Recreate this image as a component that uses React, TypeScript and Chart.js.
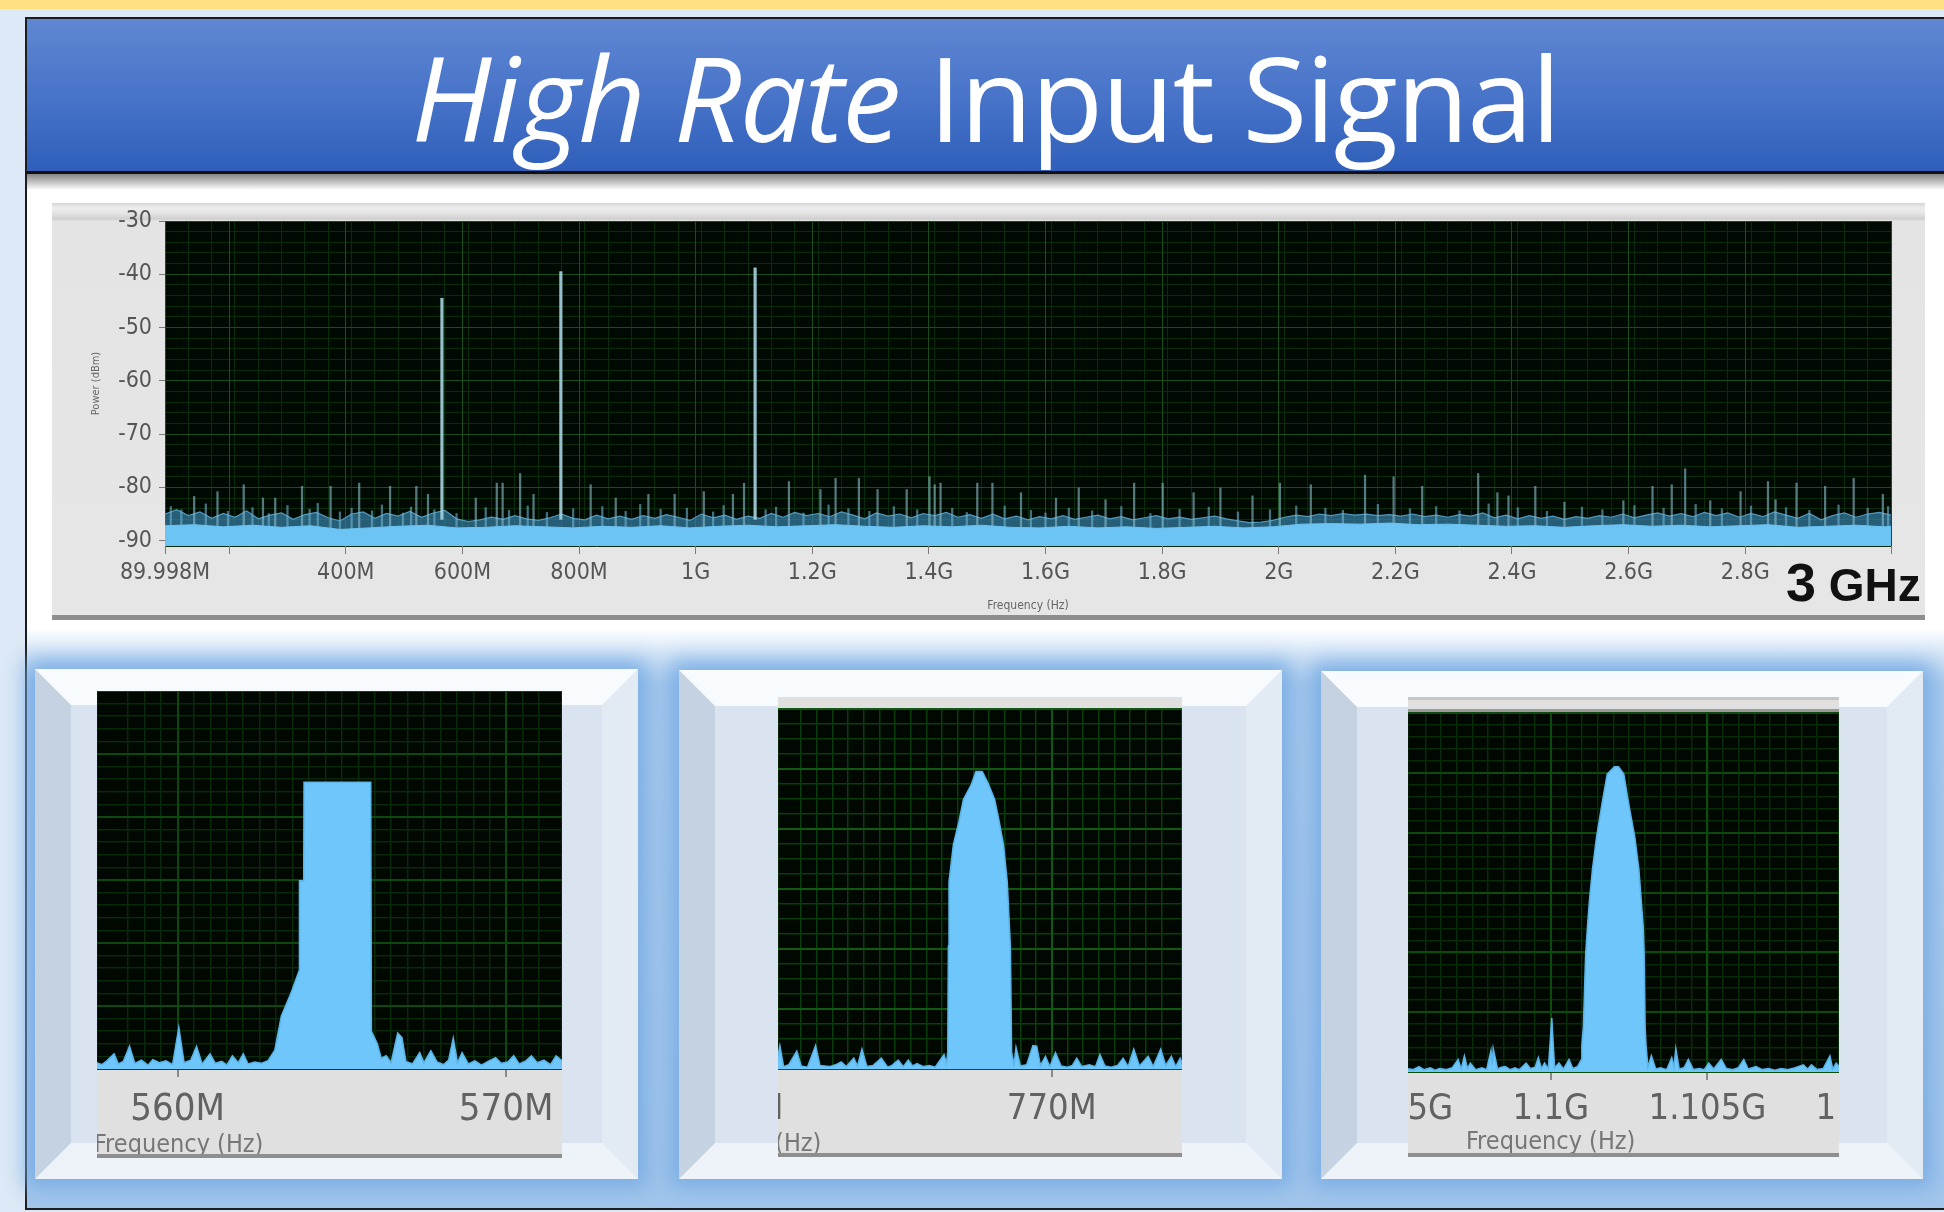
import React, { useEffect, useRef } from "react";
import { Chart, registerables } from "chart.js";

Chart.register(...registerables);

const AXIS_FONT = "'DejaVu Sans Condensed', 'DejaVu Sans', sans-serif";

/* ---------------- main spectrum (frequency in MHz, power in dBm) ---------------- */
const mainFreqMin = 89.998;
const mainFreqMax = 3050;
const mainPowerMin = -91;
const mainPowerMax = -30;
const mainXTickValues = [89.998, 200, 400, 600, 800, 1000, 1200, 1400, 1600, 1800, 2000, 2200, 2400, 2600, 2800, 3050];
const mainXTickLabels = ["89.998M", "", "400M", "600M", "800M", "1G", "1.2G", "1.4G", "1.6G", "1.8G", "2G", "2.2G", "2.4G", "2.6G", "2.8G", ""];
const mainYTickValues = [-90, -80, -70, -60, -50, -40, -30];
const mainYTickLabels = ["-90", "-80", "-70", "-60", "-50", "-40", "-30"];

const noiseFreqs = [90,110,130,150,170,190,210,230,250,270,290,310,330,350,370,390,410,430,450,470,490,510,530,550,570,590,610,630,650,670,690,710,730,750,770,790,810,830,850,870,890,910,930,950,970,990,1010,1030,1050,1070,1090,1110,1130,1150,1170,1190,1210,1230,1250,1270,1290,1310,1330,1350,1370,1390,1410,1430,1450,1470,1490,1510,1530,1550,1570,1590,1610,1630,1650,1670,1690,1710,1730,1750,1770,1790,1810,1830,1850,1870,1890,1910,1930,1950,1970,1990,2010,2030,2050,2070,2090,2110,2130,2150,2170,2190,2210,2230,2250,2270,2290,2310,2330,2350,2370,2390,2410,2430,2450,2470,2490,2510,2530,2550,2570,2590,2610,2630,2650,2670,2690,2710,2730,2750,2770,2790,2810,2830,2850,2870,2890,2910,2930,2950,2970,2990,3010,3030,3050];
const noiseLevels = [
  -85.0,-84.2,-85.3,-84.6,-85.8,-84.9,-85.6,-84.4,-85.9,-85.2,
  -84.8,-86.0,-85.1,-84.7,-85.7,-86.3,-85.0,-84.6,-85.8,-84.9,
  -85.4,-84.5,-85.6,-84.8,-84.3,-85.9,-86.4,-86.1,-85.6,-86.0,
  -85.3,-85.9,-86.2,-85.7,-85.0,-85.8,-86.1,-85.2,-85.9,-85.4,
  -86.0,-85.3,-85.8,-85.1,-85.6,-86.2,-85.0,-85.7,-85.2,-86.0,
  -85.4,-85.8,-84.9,-85.6,-84.7,-85.3,-84.9,-85.5,-84.6,-85.2,
  -85.9,-84.8,-85.4,-85.0,-85.7,-84.9,-85.3,-84.7,-85.6,-85.1,
  -85.8,-85.0,-85.9,-85.4,-86.1,-85.5,-85.9,-85.3,-86.0,-85.6,
  -85.2,-85.9,-85.5,-86.1,-85.7,-85.3,-85.9,-85.6,-86.0,-85.7,
  -85.4,-85.9,-86.3,-86.6,-86.5,-86.2,-85.6,-85.2,-85.5,-85.0,
  -85.3,-84.9,-85.2,-85.0,-85.3,-85.1,-85.4,-85.0,-85.5,-85.2,
  -85.6,-85.1,-85.4,-84.8,-85.7,-85.2,-85.9,-85.3,-85.8,-85.4,
  -86.0,-85.5,-85.8,-85.3,-85.6,-85.0,-85.7,-85.2,-84.8,-85.4,
  -84.9,-85.5,-84.7,-85.3,-84.8,-85.6,-84.9,-85.5,-84.6,-85.2,
  -85.8,-84.9,-86.1,-85.3,-84.8,-85.6,-85.0,-84.7,-85.2
];
const floorFreqs = [90,140,190,240,290,340,390,440,490,540,590,640,690,740,790,840,890,940,990,1040,1090,1140,1190,1240,1290,1340,1390,1440,1490,1540,1590,1640,1690,1740,1790,1840,1890,1940,1990,2040,2090,2140,2190,2240,2290,2340,2390,2440,2490,2540,2590,2640,2690,2740,2790,2840,2890,2940,2990,3040,3050];
const floorLevels = [
  -87.2,-87.0,-87.4,-87.1,-87.5,-87.2,-87.9,-87.6,-87.3,-87.1,
  -87.6,-87.5,-87.2,-87.4,-87.6,-87.3,-87.5,-87.2,-87.6,-87.3,
  -87.1,-87.4,-87.2,-87.0,-87.3,-87.5,-87.2,-87.4,-87.1,-87.5,
  -87.6,-87.3,-87.6,-87.4,-87.7,-87.5,-87.3,-87.6,-87.4,-86.9,
  -86.8,-86.9,-86.7,-87.0,-86.9,-87.1,-87.3,-87.2,-87.5,-87.2,
  -87.0,-87.3,-87.1,-87.4,-87.2,-87.0,-87.5,-87.3,-87.1,-87.4,
  -87.3
];
const spurBase = -88;
const spurFreqs = [140,180,225,258,279,325,374,423,476,521,541,623,659,669,699,722,820,863,919,964,1014,1064,1083,1160,1214,1240,1280,1312,1362,1401,1410,1420,1483,1509,1558,1618,1657,1703,1752,1801,1854,1900,1955,2002,2055,2148,2197,2246,2342,2375,2394,2440,2490,2591,2641,2674,2697,2740,2792,2839,2852,2888,2937,2986,3036];
const spurLevels = [-81.7,-80.8,-79.5,-82,-82,-79.8,-79.8,-79.2,-79.8,-79.8,-81.3,-82,-79.2,-79.2,-77.4,-81.3,-79.5,-82,-81.3,-81.3,-80.8,-81.3,-79.2,-78.9,-80.4,-78.3,-78.3,-80.4,-80.4,-78,-79.5,-79.2,-79.2,-79.2,-81,-82,-80.1,-82.3,-79.2,-79.2,-81,-80.1,-81.6,-79.2,-79.5,-77.7,-78,-79.8,-77.4,-81,-81.6,-79.8,-82.8,-82.5,-79.8,-79.5,-76.5,-82.5,-80.8,-78.9,-82.3,-79.2,-79.8,-78.3,-81.3];
const smallSpurFreqs = [100,118,160,198,240,268,300,338,352,390,410,445,462,498,512,552,590,640,680,712,745,790,840,880,905,940,985,1030,1048,1120,1138,1185,1228,1262,1298,1340,1380,1440,1465,1530,1575,1600,1640,1680,1730,1780,1830,1880,1930,1985,2030,2080,2110,2170,2225,2270,2310,2360,2410,2460,2520,2555,2610,2660,2715,2760,2810,2870,2910,2960,3010,3045];
const smallSpurLevels = [
  -83.6,-84.2,-83.1,-84.5,-83.8,-84.9,-83.4,-84.1,-83.0,-84.6,
  -83.9,-84.4,-83.3,-84.8,-83.7,-84.2,-84.9,-83.8,-84.3,-83.5,
  -84.7,-84.0,-83.6,-84.5,-83.2,-84.1,-83.9,-84.6,-83.4,-84.2,
  -83.7,-84.8,-83.3,-84.0,-84.5,-83.6,-84.2,-83.9,-84.7,-83.5,
  -84.3,-84.8,-83.9,-84.4,-83.6,-84.9,-84.1,-83.7,-84.6,-84.2,
  -83.5,-83.9,-84.3,-83.2,-84.0,-83.6,-84.4,-83.1,-83.8,-84.5,
  -83.7,-84.2,-83.4,-83.9,-83.2,-84.0,-83.5,-83.8,-84.3,-83.3,
  -83.9,-83.6
];
const toneBase = -86;
const toneFreqs = [564.9, 768.85, 1102.0];
const toneLevels = [-44.5, -39.5, -38.8];

/* ---------------- zoomed panels ---------------- */
const panel1Freqs = [557.5,557.7,557.85,558.07,558.2,558.35,558.54,558.7,558.9,559.1,559.25,559.45,559.65,559.85,560.04,560.2,560.4,560.58,560.75,560.99,561.15,561.35,561.5,561.67,561.85,562.0,562.15,562.35,562.55,562.75,562.96,563.16,563.45,563.7,563.71,563.84,563.85,565.88,565.9,566.08,566.2,566.35,566.5,566.7,566.83,566.95,567.15,567.37,567.5,567.71,567.9,568.1,568.25,568.39,568.52,568.66,568.85,569.05,569.25,569.45,569.68,569.85,570.05,570.23,570.4,570.6,570.77,570.95,571.15,571.35,571.52,571.75];
const panel1Levels = [-88.9,-89.3,-88.7,-87.6,-89.2,-88.8,-86.4,-89.1,-88.6,-89.4,-88.5,-89.0,-88.7,-89.3,-83.4,-89.0,-88.6,-86.4,-89.2,-87.6,-89.1,-88.8,-89.4,-87.9,-89.0,-87.6,-89.2,-88.9,-89.1,-88.7,-87.0,-81.6,-78.0,-74.4,-60.1,-60.1,-44.5,-44.5,-84.0,-86.0,-88.3,-87.9,-89.0,-84.3,-85.0,-88.8,-89.2,-87.4,-89.0,-87.1,-88.9,-89.3,-88.6,-85.1,-89.0,-87.4,-89.2,-88.7,-89.4,-88.8,-88.2,-89.1,-88.9,-87.9,-89.2,-88.7,-87.9,-89.0,-88.6,-89.3,-87.9,-88.9];
const panel1TickValues = [560, 570];
const panel1TickLabels = ["560M", "570M"];

const panel2Freqs = [765.6,765.66,765.72,765.8,765.93,766.0,766.1,766.23,766.3,766.45,766.55,766.64,766.72,766.84,766.9,766.97,767.05,767.15,767.28,767.38,767.45,767.55,767.63,767.71,767.78,767.85,767.95,768.05,768.14,768.22,768.28,768.32,768.34,768.35,768.36,768.43,768.52,768.59,768.72,768.79,768.89,768.99,769.09,769.16,769.23,769.29,769.34,769.36,769.4,769.43,769.5,769.6,769.7,769.76,769.82,769.9,769.97,770.06,770.15,770.25,770.33,770.4,770.48,770.6,770.7,770.77,770.85,770.95,771.05,771.14,771.22,771.31,771.4,771.54,771.62,771.74,771.82,771.91,771.98,772.05,772.1];
const panel2Levels = [-89.5,-86.1,-89.6,-89.3,-87.0,-89.5,-89.7,-86.1,-89.4,-89.6,-89.3,-88.8,-89.6,-88.2,-89.5,-86.7,-89.6,-89.4,-88.2,-89.7,-89.4,-88.5,-89.6,-88.5,-89.5,-89.1,-89.6,-89.4,-89.7,-88.5,-87.6,-89.0,-87.3,-69.5,-58.8,-52.6,-48.7,-45.1,-42.5,-40.4,-40.4,-42.5,-45.1,-48.7,-52.6,-58.8,-69.5,-87.3,-89.2,-86.4,-89.5,-89.3,-86.1,-86.2,-89.4,-87.9,-89.6,-87.3,-89.5,-89.7,-89.4,-88.2,-89.6,-89.3,-89.6,-87.6,-89.5,-89.7,-89.4,-88.2,-89.6,-86.7,-89.5,-87.9,-89.6,-86.7,-89.4,-87.9,-89.6,-88.2,-89.5];
const panel2TickValues = [765, 770, 775];
const panel2TickLabels = ["765M", "770M", "775M"];

const panel3Freqs = [1095.4,1095.6,1095.79,1095.95,1096.15,1096.3,1096.45,1096.65,1096.85,1097.04,1097.14,1097.24,1097.34,1097.43,1097.6,1097.8,1097.95,1098.09,1098.13,1098.16,1098.3,1098.42,1098.55,1098.7,1098.85,1099.0,1099.21,1099.35,1099.5,1099.6,1099.7,1099.8,1099.92,1100.03,1100.12,1100.26,1100.4,1100.58,1100.7,1100.85,1100.97,1100.99,1101.04,1101.11,1101.17,1101.24,1101.33,1101.46,1101.63,1101.8,1102.03,1102.16,1102.33,1102.49,1102.68,1102.81,1102.88,1102.95,1102.98,1103.01,1103.04,1103.1,1103.21,1103.35,1103.5,1103.7,1103.86,1103.93,1103.99,1104.1,1104.25,1104.39,1104.55,1104.75,1104.9,1105.04,1105.2,1105.44,1105.6,1105.8,1105.98,1106.16,1106.3,1106.55,1106.75,1106.95,1107.15,1107.35,1107.55,1107.8,1108.06,1108.2,1108.32,1108.5,1108.7,1108.91,1109.0,1109.11,1109.25];
const panel3Levels = [-89.4,-89.6,-89.1,-89.6,-89.3,-89.7,-89.4,-89.6,-89.3,-87.9,-89.5,-87.3,-89.4,-88.5,-89.6,-89.3,-89.6,-86.4,-88.8,-86.1,-89.5,-89.2,-89.1,-89.6,-89.3,-89.6,-88.5,-89.4,-89.2,-87.6,-89.4,-88.5,-89.5,-81.0,-89.3,-88.5,-89.5,-87.9,-89.4,-89.1,-88.0,-85.5,-82.5,-70.5,-65.7,-60.9,-56.1,-50.7,-45.3,-40.2,-39.0,-39.0,-40.2,-45.3,-50.7,-56.1,-60.9,-65.7,-70.5,-82.5,-85.5,-89.2,-87.3,-89.5,-89.3,-89.6,-87.6,-89.2,-86.1,-89.5,-89.3,-87.9,-89.6,-89.4,-89.6,-88.5,-89.5,-87.9,-89.4,-89.6,-89.3,-87.9,-89.5,-89.1,-89.6,-89.4,-89.7,-89.4,-89.6,-89.3,-88.8,-89.5,-88.8,-89.6,-89.4,-87.3,-89.5,-88.5,-89.4];
const panel3TickValues = [1095, 1100, 1105, 1110];
const panel3TickLabels = ["1.095G", "1.1G", "1.105G", "1.11G"];

const plotBackground = {
  id: "plotBackground",
  beforeDraw(chart: any, _args: any, opts: any) {
    const { ctx, chartArea } = chart;
    if (!chartArea) return;
    ctx.save();
    ctx.fillStyle = opts.color || "#000";
    ctx.fillRect(chartArea.left, chartArea.top, chartArea.right - chartArea.left, chartArea.bottom - chartArea.top);
    ctx.restore();
  },
};

function toPoints(xs: number[], ys: number[]) {
  return xs.map((x, i) => ({ x, y: ys[i] }));
}

function MainSpectrum() {
  const ref = useRef<HTMLCanvasElement>(null);
  useEffect(() => {
    const chart = new Chart(ref.current as HTMLCanvasElement, {
      type: "line",
      data: {
        datasets: [
          {
            type: "bar",
            data: toneFreqs.map((f, i) => ({ x: f, y: [toneBase, toneLevels[i]] })),
            backgroundColor: "rgba(165,212,226,0.9)",
            barThickness: 2.5,
            grouped: false,
            order: 0,
            xAxisID: "x",
            yAxisID: "y",
          },
          {
            type: "line",
            data: toPoints(floorFreqs, floorLevels),
            borderColor: "#6cc4f4",
            backgroundColor: "#6cc4f4",
            borderWidth: 1,
            fill: "start",
            pointRadius: 0,
            order: 1,
            xAxisID: "x",
            yAxisID: "y",
          },
          {
            type: "bar",
            data: spurFreqs.map((f, i) => ({ x: f, y: [spurBase, spurLevels[i]] })),
            backgroundColor: "rgba(140,192,208,0.6)",
            barThickness: 1.6,
            grouped: false,
            order: 2,
            xAxisID: "x",
            yAxisID: "y",
          },
          {
            type: "bar",
            data: smallSpurFreqs.map((f, i) => ({ x: f, y: [spurBase, smallSpurLevels[i]] })),
            backgroundColor: "rgba(110,180,212,0.6)",
            barThickness: 1.6,
            grouped: false,
            order: 3,
            xAxisID: "x",
            yAxisID: "y",
          },
          {
            type: "line",
            data: toPoints(noiseFreqs, noiseLevels),
            borderColor: "rgba(90,165,205,0.9)",
            backgroundColor: "rgba(55,130,170,0.7)",
            borderWidth: 1.2,
            fill: "start",
            pointRadius: 0,
            order: 4,
            xAxisID: "x",
            yAxisID: "y",
          },
        ],
      },
      options: {
        responsive: false,
        animation: false,
        layout: { padding: { left: 0, right: 34, top: 18, bottom: 0 }, autoPadding: false },
        plugins: {
          legend: { display: false },
          tooltip: { enabled: false },
          plotBackground: { color: "#010a02" },
        },
        scales: {
          x: {
            type: "linear",
            position: "bottom",
            min: mainFreqMin,
            max: mainFreqMax,
            bounds: "data",
            offset: false,
            afterBuildTicks: (s: any) => {
              s.ticks = mainXTickValues.map((v) => ({ value: v }));
            },
            ticks: {
              autoSkip: false,
              maxRotation: 0,
              minRotation: 0,
              padding: 5,
              color: "#555",
              font: { family: AXIS_FONT, size: 23 },
              callback: (_v: any, i: number) => mainXTickLabels[i],
            },
            grid: { offset: false, color: "#1a4d1b", lineWidth: 1, tickColor: "#7a7a7a", tickLength: 8, z: -1 },
            border: { display: false },
            title: {
              display: true,
              text: "Frequency (Hz)",
              color: "#666",
              font: { family: AXIS_FONT, size: 12 },
              padding: { top: 0, bottom: 2 },
            },
            afterFit: (s: any) => {
              s.height = 69;
              s.paddingLeft = 0;
              s.paddingRight = 0;
            },
          },
          y: {
            type: "linear",
            position: "left",
            min: mainPowerMin,
            max: mainPowerMax,
            beginAtZero: false,
            afterBuildTicks: (s: any) => {
              s.ticks = mainYTickValues.map((v) => ({ value: v }));
            },
            ticks: {
              padding: 7,
              color: "#555",
              font: { family: AXIS_FONT, size: 23 },
              callback: (_v: any, i: number) => mainYTickLabels[i],
            },
            grid: { color: "#1a4d1b", lineWidth: 1, tickColor: "#7a7a7a", tickLength: 6, z: -1 },
            border: { display: false },
            title: {
              display: true,
              text: "Power (dBm)",
              color: "#666",
              font: { family: AXIS_FONT, size: 11 },
              padding: { top: 38, bottom: 0 },
            },
            afterFit: (s: any) => {
              s.width = 113;
              s.paddingTop = 0;
              s.paddingBottom = 0;
            },
          },
          xm: {
            type: "linear",
            position: "bottom",
            min: mainFreqMin,
            max: mainFreqMax,
            ticks: { display: false, stepSize: 40 },
            grid: { color: "#0b2c0c", lineWidth: 1, drawTicks: false, z: -2 },
            border: { display: false },
            afterFit: (s: any) => {
              s.height = 0;
              s.paddingLeft = 0;
              s.paddingRight = 0;
            },
          },
          ym: {
            type: "linear",
            position: "left",
            min: mainPowerMin,
            max: mainPowerMax,
            ticks: { display: false, stepSize: 2 },
            grid: { color: "#0b2c0c", lineWidth: 1, drawTicks: false, z: -2 },
            border: { display: false },
            afterFit: (s: any) => {
              s.width = 0;
              s.paddingTop = 0;
              s.paddingBottom = 0;
            },
          },
        },
      } as any,
      plugins: [plotBackground],
    } as any);
    return () => chart.destroy();
  }, []);
  return (
    <canvas
      ref={ref}
      width={1873}
      height={412}
      style={{ position: "absolute", left: 0, top: 0, width: 1873, height: 412 }}
    />
  );
}

type PanelSpec = {
  freqs: number[];
  levels: number[];
  xMin: number;
  xMax: number;
  tickValues: number[];
  tickLabels: string[];
  minorX: number;
  minorY: number;
  width: number;
  height: number;
  plotTop: number;
  plotBottom: number;
  labelSize: number;
  labelPad: number;
  majorColor: string;
  minorColor: string;
};

function PanelChart({ spec }: { spec: PanelSpec }) {
  const ref = useRef<HTMLCanvasElement>(null);
  useEffect(() => {
    const chart = new Chart(ref.current as HTMLCanvasElement, {
      type: "line",
      data: {
        datasets: [
          {
            data: toPoints(spec.freqs, spec.levels),
            borderColor: "#5ab4e8",
            backgroundColor: "#6ec6fa",
            borderWidth: 1.5,
            fill: "start",
            pointRadius: 0,
            tension: 0,
            clip: 0,
            xAxisID: "x",
            yAxisID: "y",
          },
        ],
      },
      options: {
        responsive: false,
        animation: false,
        layout: { padding: { left: 0, right: 0, top: spec.plotTop, bottom: 0 }, autoPadding: false },
        plugins: {
          legend: { display: false },
          tooltip: { enabled: false },
          plotBackground: { color: "#010801" },
        },
        scales: {
          x: {
            type: "linear",
            position: "bottom",
            min: spec.xMin,
            max: spec.xMax,
            bounds: "data",
            offset: false,
            afterBuildTicks: (s: any) => {
              s.ticks = spec.tickValues.map((v) => ({ value: v }));
            },
            ticks: {
              autoSkip: false,
              maxRotation: 0,
              minRotation: 0,
              padding: spec.labelPad,
              color: "#626262",
              font: { family: AXIS_FONT, size: spec.labelSize },
              callback: (_v: any, i: number) => spec.tickLabels[i],
            },
            grid: { offset: false, color: spec.majorColor, lineWidth: 2, tickColor: "#8a8a8a", tickLength: 8, z: -1 },
            border: { display: false },
            afterFit: (s: any) => {
              s.height = spec.height - spec.plotBottom;
              s.paddingLeft = 0;
              s.paddingRight = 0;
            },
          },
          y: {
            type: "linear",
            position: "left",
            min: -90,
            max: -30,
            beginAtZero: false,
            ticks: { display: false, stepSize: 10 },
            grid: { color: spec.majorColor, lineWidth: 2, drawTicks: false, z: -1 },
            border: { display: false },
            afterFit: (s: any) => {
              s.width = 0;
              s.paddingTop = 0;
              s.paddingBottom = 0;
            },
          },
          xm: {
            type: "linear",
            position: "bottom",
            min: spec.xMin,
            max: spec.xMax,
            ticks: { display: false, stepSize: spec.minorX },
            grid: { color: spec.minorColor, lineWidth: 1.5, drawTicks: false, z: -2 },
            border: { display: false },
            afterFit: (s: any) => {
              s.height = 0;
              s.paddingLeft = 0;
              s.paddingRight = 0;
            },
          },
          ym: {
            type: "linear",
            position: "left",
            min: -90,
            max: -30,
            ticks: { display: false, stepSize: spec.minorY },
            grid: { color: spec.minorColor, lineWidth: 1.5, drawTicks: false, z: -2 },
            border: { display: false },
            afterFit: (s: any) => {
              s.width = 0;
              s.paddingTop = 0;
              s.paddingBottom = 0;
            },
          },
        },
      } as any,
      plugins: [plotBackground],
    } as any);
    return () => chart.destroy();
  }, []);
  return (
    <canvas
      ref={ref}
      width={spec.width}
      height={spec.height}
      style={{ position: "absolute", left: 0, top: 0, width: spec.width, height: spec.height }}
    />
  );
}

const panel1Spec: PanelSpec = {
  freqs: panel1Freqs, levels: panel1Levels, xMin: 557.55, xMax: 571.7,
  tickValues: panel1TickValues, tickLabels: panel1TickLabels, minorX: 0.5, minorY: 2,
  width: 465, height: 467, plotTop: 0, plotBottom: 378, labelSize: 38, labelPad: 10,
  majorColor: "#0d480e", minorColor: "#0a290a",
};
const panel2Spec: PanelSpec = {
  freqs: panel2Freqs, levels: panel2Levels, xMin: 765.63, xMax: 772.08,
  tickValues: panel2TickValues, tickLabels: panel2TickLabels, minorX: 0.25, minorY: 2.5,
  width: 404, height: 460, plotTop: 12, plotBottom: 372, labelSize: 36, labelPad: 11,
  majorColor: "#0f5a10", minorColor: "#0b3c0b",
};
const panel3Spec: PanelSpec = {
  freqs: panel3Freqs, levels: panel3Levels, xMin: 1095.44, xMax: 1109.2,
  tickValues: panel3TickValues, tickLabels: panel3TickLabels, minorX: 0.5, minorY: 2,
  width: 431, height: 460, plotTop: 16, plotBottom: 375, labelSize: 36, labelPad: 8,
  majorColor: "#0d4a0e", minorColor: "#0a2b0a",
};

function Frame({ left, top, width, height }: { left: number; top: number; width: number; height: number }) {
  return (
    <div
      style={{
        position: "absolute",
        left,
        top,
        width,
        height,
        boxSizing: "border-box",
        borderStyle: "solid",
        borderWidth: 36,
        borderTopColor: "#f8fbfe",
        borderRightColor: "#e2eaf4",
        borderBottomColor: "#edf3f9",
        borderLeftColor: "#c5d2e2",
        background: "#dae4f0",
        boxShadow: "0 0 20px 9px rgba(120,172,228,0.95)",
      }}
    />
  );
}

function PanelWindow({
  left, top, spec, titleLeft, titleTop, topStrip,
}: { left: number; top: number; spec: PanelSpec; titleLeft: number; titleTop: number; topStrip: boolean }) {
  return (
    <div
      style={{
        position: "absolute",
        left,
        top,
        width: spec.width,
        height: spec.height,
        overflow: "hidden",
        background: "#e0e0e0",
      }}
    >
      {topStrip ? (
        <>
          <div style={{ position: "absolute", left: 0, top: 0, width: spec.width, height: 3, background: "#c6c6c6" }} />
          <div style={{ position: "absolute", left: 0, top: 12, width: spec.width, height: 4, background: "#9a9a9a" }} />
        </>
      ) : null}
      <PanelChart spec={spec} />
      <div
        style={{
          position: "absolute",
          left: titleLeft,
          top: titleTop,
          fontFamily: AXIS_FONT,
          fontSize: 25,
          lineHeight: "26px",
          color: "#767676",
          whiteSpace: "nowrap",
        }}
      >
        Frequency (Hz)
      </div>
      <div style={{ position: "absolute", left: 0, bottom: 0, width: spec.width, height: 4, background: "#8e8e8e" }} />
    </div>
  );
}

export default function App() {
  return (
    <div
      style={{
        position: "absolute",
        left: 0,
        top: 0,
        width: 1944,
        height: 1212,
        overflow: "hidden",
        background: "#dde9f6",
      }}
    >
      <div style={{ position: "absolute", left: 0, top: 0, width: 1944, height: 9, background: "#ffe181" }} />
      <div
        style={{
          position: "absolute",
          left: 25,
          top: 172,
          width: 1919,
          height: 1038,
          background: "#ffffff",
          borderLeft: "2px solid #1c1c1c",
          borderBottom: "2px solid #1c1c1c",
          boxSizing: "border-box",
        }}
      />
      <div
        style={{
          position: "absolute",
          left: 27,
          top: 628,
          width: 1917,
          height: 580,
          background: "linear-gradient(#ffffff 0px, #d6e6f7 26px, #abcbed 56px, #a3c6eb 100%)",
        }}
      />
      {/* title banner */}
      <div
        style={{
          position: "absolute",
          left: 25,
          top: 17,
          width: 1919,
          height: 157,
          boxSizing: "border-box",
          borderTop: "2px solid #1e1e1e",
          borderLeft: "2px solid #1e1e1e",
          borderBottom: "3px solid #111",
          background: "linear-gradient(#5f87d2, #4672c8 55%, #2f5fba)",
        }}
      >
        <div
          style={{
            position: "absolute",
            left: 0,
            right: 0,
            top: 19,
            textAlign: "center",
            color: "#ffffff",
            fontFamily: "'Open Sans', 'Noto Sans', sans-serif",
            fontSize: 118,
            lineHeight: "118px",
            letterSpacing: -1.5,
            whiteSpace: "nowrap",
          }}
        >
          <span style={{ fontStyle: "italic" }}>High Rate</span> Input Signal
        </div>
      </div>
      <div
        style={{
          position: "absolute",
          left: 27,
          top: 174,
          width: 1917,
          height: 16,
          background: "linear-gradient(rgba(80,80,80,0.7), rgba(255,255,255,0))",
        }}
      />
      {/* main spectrum panel */}
      <div
        style={{
          position: "absolute",
          left: 52,
          top: 203,
          width: 1873,
          height: 417,
          boxSizing: "border-box",
          borderBottom: "5px solid #8e8e8e",
          background:
            "linear-gradient(#d6d6d6 0px, #ededed 5px, #e6e6e6 10px, #cfcfcf 16px, #e4e4e4 18px, #e6e6e6 100%)",
        }}
      >
        <MainSpectrum />
        <div
          style={{
            position: "absolute",
            left: 1734,
            top: 352,
            fontFamily: "'Liberation Sans', Arial, sans-serif",
            fontWeight: "bold",
            color: "#111",
            fontSize: 54,
            lineHeight: "54px",
            whiteSpace: "nowrap",
          }}
        >
          <span style={{ fontSize: 54 }}>3</span>
          <span style={{ fontSize: 46 }}> GHz</span>
        </div>
      </div>
      {/* zoom frames */}
      <Frame left={35} top={669} width={603} height={510} />
      <Frame left={679} top={670} width={603} height={509} />
      <Frame left={1321} top={671} width={602} height={508} />
      <PanelWindow left={97} top={691} spec={panel1Spec} titleLeft={-3} titleTop={440} topStrip={false} />
      <PanelWindow left={778} top={697} spec={panel2Spec} titleLeft={-126} titleTop={433} topStrip={false} />
      <PanelWindow left={1408} top={697} spec={panel3Spec} titleLeft={58} titleTop={431} topStrip={true} />
    </div>
  );
}
